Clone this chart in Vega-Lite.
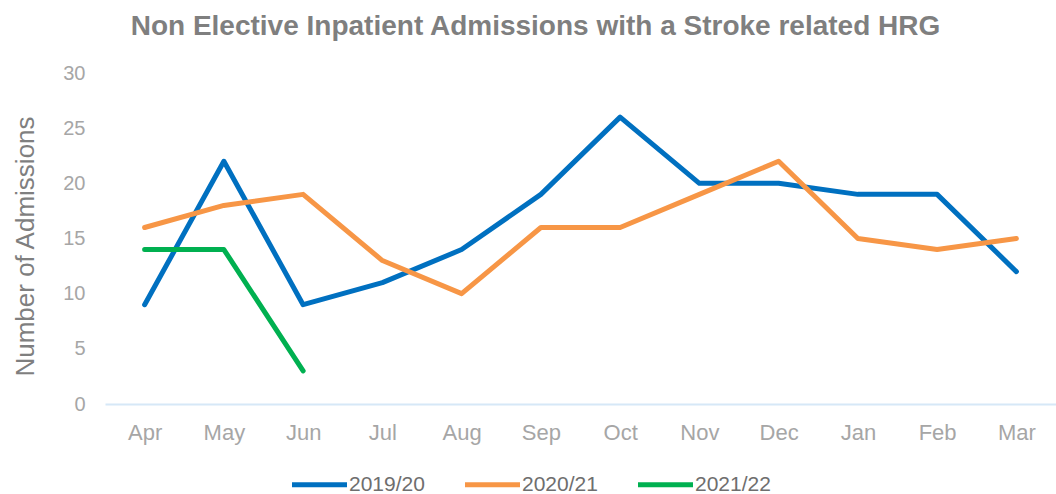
{
  "$schema": "https://vega.github.io/schema/vega-lite/v6.json",
  "autosize": "none",
  "width": 951,
  "height": 331,
  "padding": {"left": 105, "top": 73, "right": 0, "bottom": 90},
  "background": "white",
  "title": {
    "text": "Non Elective Inpatient Admissions with a Stroke related HRG",
    "font": "Liberation Sans",
    "fontSize": 28,
    "fontWeight": "bold",
    "color": "#7F7F7F",
    "anchor": "middle",
    "dx": -45,
    "offset": 22
  },
  "config": {
    "view": {"stroke": null},
    "font": "Liberation Sans"
  },
  "data": {
    "values": [
      {"year": "2019/20", "month": "Apr", "value": 9},
      {"year": "2019/20", "month": "May", "value": 22},
      {"year": "2019/20", "month": "Jun", "value": 9},
      {"year": "2019/20", "month": "Jul", "value": 11},
      {"year": "2019/20", "month": "Aug", "value": 14},
      {"year": "2019/20", "month": "Sep", "value": 19},
      {"year": "2019/20", "month": "Oct", "value": 26},
      {"year": "2019/20", "month": "Nov", "value": 20},
      {"year": "2019/20", "month": "Dec", "value": 20},
      {"year": "2019/20", "month": "Jan", "value": 19},
      {"year": "2019/20", "month": "Feb", "value": 19},
      {"year": "2019/20", "month": "Mar", "value": 12},
      {"year": "2020/21", "month": "Apr", "value": 16},
      {"year": "2020/21", "month": "May", "value": 18},
      {"year": "2020/21", "month": "Jun", "value": 19},
      {"year": "2020/21", "month": "Jul", "value": 13},
      {"year": "2020/21", "month": "Aug", "value": 10},
      {"year": "2020/21", "month": "Sep", "value": 16},
      {"year": "2020/21", "month": "Oct", "value": 16},
      {"year": "2020/21", "month": "Nov", "value": 19},
      {"year": "2020/21", "month": "Dec", "value": 22},
      {"year": "2020/21", "month": "Jan", "value": 15},
      {"year": "2020/21", "month": "Feb", "value": 14},
      {"year": "2020/21", "month": "Mar", "value": 15},
      {"year": "2021/22", "month": "Apr", "value": 14},
      {"year": "2021/22", "month": "May", "value": 14},
      {"year": "2021/22", "month": "Jun", "value": 3}
    ]
  },
  "mark": {"type": "line", "strokeWidth": 5, "strokeCap": "round", "strokeJoin": "round"},
  "encoding": {
    "x": {
      "field": "month",
      "type": "ordinal",
      "sort": ["Apr","May","Jun","Jul","Aug","Sep","Oct","Nov","Dec","Jan","Feb","Mar"],
      "scale": {"type": "point", "padding": 0.5},
      "axis": {
        "title": null,
        "labelAngle": 0,
        "labelFontSize": 22,
        "labelColor": "#A6A6A6",
        "labelPadding": 18,
        "ticks": false,
        "grid": false,
        "domainColor": "#D6E8F7",
        "domainWidth": 2
      }
    },
    "y": {
      "field": "value",
      "type": "quantitative",
      "scale": {"domain": [0, 30]},
      "axis": {
        "title": "Number of Admissions",
        "titleFontSize": 26,
        "titleFontWeight": "normal",
        "titleColor": "#7F7F7F",
        "titleX": -80,
        "titleY": 173,
        "titleAngle": -90,
        "titleAlign": "center",
        "titleBaseline": "middle",
        "values": [0,5,10,15,20,25,30],
        "labelFontSize": 20,
        "labelColor": "#A6A6A6",
        "labelPadding": 20,
        "ticks": false,
        "domain": false,
        "grid": false
      }
    },
    "color": {
      "field": "year",
      "type": "nominal",
      "scale": {"domain": ["2019/20","2020/21","2021/22"], "range": ["#0070C0","#F79646","#00B050"]},
      "legend": {
        "title": null,
        "orient": "none",
        "direction": "horizontal",
        "legendX": 204,
        "legendY": 401,
        "symbolType": "M-5,0H5",
        "symbolSize": 121,
        "symbolStrokeWidth": 5,
        "labelFontSize": 21,
        "labelColor": "#6E6E6E",
        "labelOffset": 19,
        "columnPadding": 30
      }
    }
  }
}
